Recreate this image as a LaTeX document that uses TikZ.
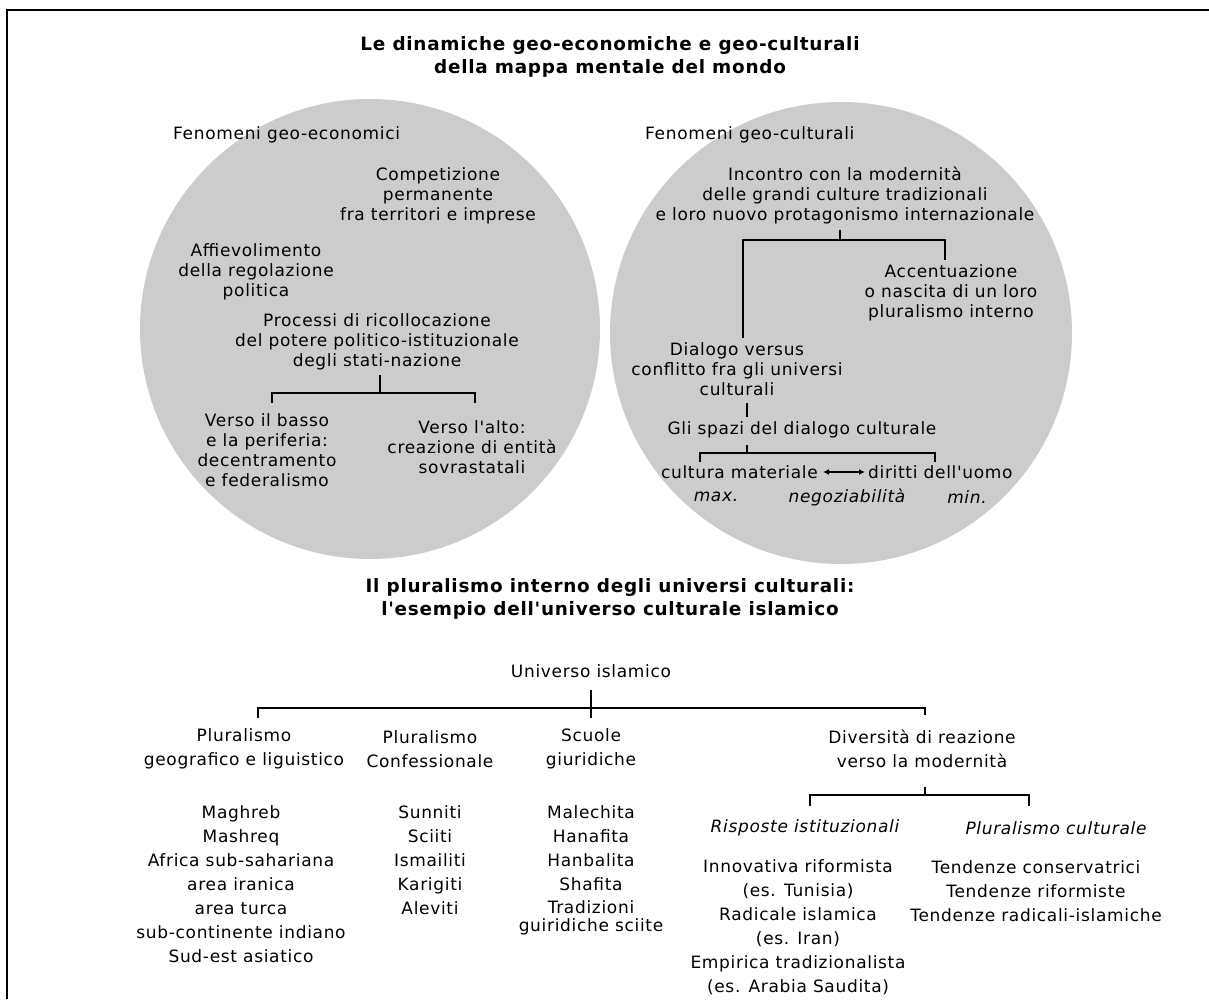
\documentclass[tikz,border=0pt]{standalone}
\usepackage{fontspec}
\setmainfont{DejaVu Sans}[LetterSpace=4,Ligatures=TeXOff]
\usetikzlibrary{arrows.meta}
\definecolor{circgray}{HTML}{CCCCCC}
\begin{document}
\begin{tikzpicture}[x=1pt,y=-1pt,
  txt/.style={align=center,inner sep=0pt,font=\fontsize{17}{20}\selectfont},
  txtl/.style={align=center,inner sep=0pt,font=\fontsize{17}{24}\selectfont},
  itl/.style={align=center,inner sep=0pt,font=\fontsize{17}{20}\selectfont\itshape},
  ttl/.style={align=center,inner sep=0pt,font=\fontsize{18.4}{23}\selectfont\bfseries},
  conn/.style={line width=1.6pt},
  frame/.style={line width=2pt},
  arr/.style={line width=1.4pt,{Latex[length=6pt,width=6pt]}-{Latex[length=6pt,width=6pt]}}
]
\useasboundingbox (0,0) rectangle (1209,999);
\draw[frame] (7,999) -- (7,10) -- (1209,10);
\fill[circgray] (370,329) circle (230);
\fill[circgray] (841,333) circle (231);

\node[ttl] (title1) at (610,57) {Le dinamiche geo-economiche e geo-culturali\\della mappa mentale del mondo};

% left circle
\node[txt,anchor=west] (fe) at (173,135) {Fenomeni geo-economici};
\node[txt] (comp) at (438,196) {Competizione\\permanente\\fra territori e imprese};
\node[txt] (aff) at (256,272) {Affievolimento\\della regolazione\\politica};
\node[txt] (proc) at (377,342) {Processi di ricollocazione\\del potere politico-istituzionale\\degli stati-nazione};
\node[txt] (basso) at (267,450) {Verso il basso\\e la periferia:\\decentramento\\e federalismo};
\node[txt] (alto) at (472,447) {Verso l'alto:\\creazione di entità\\sovrastatali};
\coordinate (pt) at (380,375);
\coordinate (pj) at (380,393);
\coordinate (pl) at (272,403);
\coordinate (pr) at (475,403);
\draw[conn] (pt) -- (pj);
\draw[conn] (pl) |- (pj) -| (pr);

% right circle
\node[txt,anchor=west] (fc) at (645,135) {Fenomeni geo-culturali};
\node[txt] (inc) at (845,195) {Incontro con la modernità\\delle grandi culture tradizionali\\e loro nuovo protagonismo internazionale};
\node[txt] (acc) at (951,293) {Accentuazione\\o nascita di un loro\\pluralismo interno};
\node[txt] (dia) at (737,369) {Dialogo versus\\conflitto fra gli universi\\culturali};
\node[txt] (spazi) at (802,430) {Gli spazi del dialogo culturale};
\coordinate (it) at (840,230);
\coordinate (ij) at (840,240);
\coordinate (il) at (743,338);
\coordinate (ir) at (945,260);
\draw[conn] (it) -- (ij);
\draw[conn] (il) |- (ij) -| (ir);
\coordinate (dt) at (747,403);
\coordinate (db) at (747,417);
\draw[conn] (dt) -- (db);
\coordinate (st) at (747,445);
\coordinate (sj) at (747,453);
\coordinate (sl) at (700,462);
\coordinate (sr) at (935,462);
\draw[conn] (st) -- (sj);
\draw[conn] (sl) |- (sj) -| (sr);
\node[txt,anchor=east] (cm) at (818,472) {cultura materiale};
\node[txt,anchor=west] (du) at (868,472) {diritti dell'uomo};
\draw[arr,shorten <=5pt,shorten >=3pt] (cm.east) -- (du.west);
\node[itl] (max) at (716,497) {max.};
\node[itl] (neg) at (847,497) {negoziabilità};
\node[itl] (min) at (967,497) {min.};

\node[ttl] (title2) at (610,599) {Il pluralismo interno degli universi culturali:\\l'esempio dell'universo culturale islamico};

% lower tree
\node[txtl] (ui) at (591,671) {Universo islamico};
\node[txtl] (c1) at (244,749) {Pluralismo\\geografico e liguistico};
\node[txtl] (c2) at (430,749) {Pluralismo\\Confessionale};
\node[txtl] (c3) at (591,749) {Scuole\\giuridiche};
\node[txtl] (c4) at (922,749) {Diversità di reazione\\verso la modernità};
\coordinate (ut) at (591,690);
\coordinate (ub) at (591,718);
\coordinate (uj) at (591,708);
\coordinate (ul) at (258,718);
\coordinate (ur) at (925,715);
\draw[conn] (ut) -- (ub);
\draw[conn] (ul) |- (uj) -| (ur);

\node[txtl] (l1) at (241,884) {Maghreb\\Mashreq\\Africa sub-sahariana\\area iranica\\area turca\\sub-continente indiano\\Sud-est asiatico};
\node[txtl] (l2) at (430,860) {Sunniti\\Sciiti\\Ismailiti\\Karigiti\\Aleviti};
\node[txtl] (l3) at (591,848) {Malechita\\Hanafita\\Hanbalita\\Shafita};
\node[align=center,inner sep=0pt,font=\fontsize{17}{18}\selectfont] (l3b) at (591,918) {Tradizioni\\guiridiche sciite};

\coordinate (et) at (925,787);
\coordinate (ej) at (925,795);
\coordinate (el) at (810,806);
\coordinate (er) at (1029,806);
\draw[conn] (et) -- (ej);
\draw[conn] (el) |- (ej) -| (er);
\node[itl] (ra) at (805,828) {Risposte istituzionali};
\node[itl] (pc) at (1056,828) {Pluralismo culturale};
\node[txtl] (l4a) at (798,927) {Innovativa riformista\\(es. Tunisia)\\Radicale islamica\\(es. Iran)\\Empirica tradizionalista\\(es. Arabia Saudita)};
\node[txtl] (l4b) at (1036,891) {Tendenze conservatrici\\Tendenze riformiste\\Tendenze radicali-islamiche};
\end{tikzpicture}
\end{document}
